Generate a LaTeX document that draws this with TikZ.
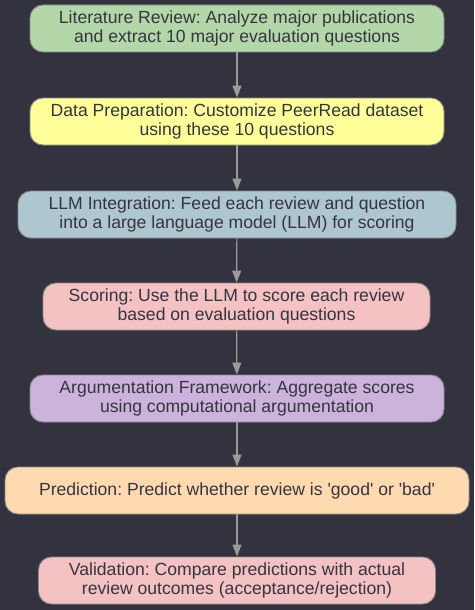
\documentclass[tikz,border=0pt]{standalone}
\usepackage{fontspec}
\setmainfont{Liberation Sans}
\usetikzlibrary{arrows.meta}
\frenchspacing
\definecolor{bg}{HTML}{33333F}
\definecolor{txt}{HTML}{35353F}
\definecolor{bord}{HTML}{8A8A8A}
\definecolor{arr}{HTML}{9A9A9A}
\definecolor{cA}{HTML}{B3D7A8}
\definecolor{cB}{HTML}{FFFF99}
\definecolor{cC}{HTML}{AEC6CF}
\definecolor{cD}{HTML}{F4C2C2}
\definecolor{cE}{HTML}{CBB3DB}
\definecolor{cF}{HTML}{FFDAB0}
\tikzset{
  stepbox/.style={draw=bord, line width=0.9pt, rounded corners=13pt, text=txt,
    align=center, inner sep=0pt, minimum height=47pt,
    font=\fontsize{17.6pt}{19.5pt}\selectfont},
  flow/.style={draw=arr, line width=1.2pt, -{Triangle[width=9pt,length=12pt]}}
}
\begin{document}
\begin{tikzpicture}[x=1pt,y=-1pt]
\fill[bg] (0,0) rectangle (474,610);
\useasboundingbox (0,0) rectangle (474,610);
\node[stepbox, fill=cA, minimum width=414pt] (a) at (237,28.5) {Literature Review: Analyze major publications\\and extract 10 major evaluation questions};
\node[stepbox, fill=cB, minimum width=414pt] (b) at (237,121.5) {Data Preparation: Customize PeerRead dataset\\using these 10 questions};
\node[stepbox, fill=cC, minimum width=438pt] (c) at (237,214.5) {LLM Integration: Feed each review and question\\into a large language model (LLM) for scoring};
\node[stepbox, fill=cD, minimum width=387pt] (d) at (236.5,306.5) {Scoring: Use the LLM to score each review\\based on evaluation questions};
\node[stepbox, fill=cE, minimum width=414pt] (e) at (237,398.5) {Argumentation Framework: Aggregate scores\\using computational argumentation};
\node[stepbox, fill=cF, minimum width=464pt] (f) at (237,490.5) {Prediction: Predict whether review is \textquotesingle good\textquotesingle{} or \textquotesingle bad\textquotesingle};
\node[stepbox, fill=cD, minimum width=397pt] (g) at (237,580.5) {Validation: Compare predictions with actual\\review outcomes (acceptance/rejection)};
\draw[flow] (a) -- (b);
\draw[flow] (b) -- (c);
\draw[flow] (c) -- (d);
\draw[flow] (d) -- (e);
\draw[flow] (e) -- (f);
\draw[flow] (f) -- (g);
\end{tikzpicture}
\end{document}
